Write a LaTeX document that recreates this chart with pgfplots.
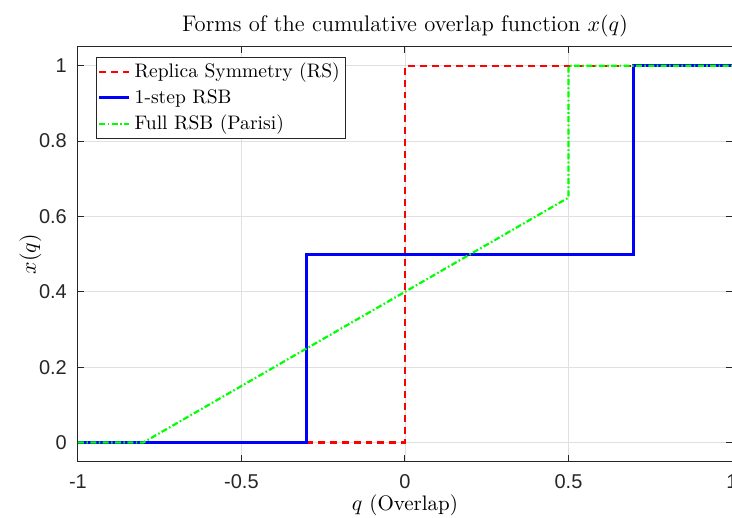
\documentclass[border=0pt]{standalone}
\usepackage{pgfplots}
\pgfplotsset{compat=1.18}
\usepackage{fontspec}
\newfontfamily\tickfont{Liberation Sans}

\definecolor{axgray}{gray}{0.15}
\definecolor{gridgray}{gray}{0.88}

\begin{document}
\begin{tikzpicture}
\begin{axis}[
  scale only axis,
  width=327.5pt, height=207.5pt,
  xmin=-1, xmax=1, ymin=-0.05, ymax=1.05,
  xtick={-1,-0.5,0,0.5,1},
  ytick={0,0.2,0.4,0.6,0.8,1},
  tick align=inside,
  major tick length=3pt,
  axis line style={axgray, line width=0.5pt},
  tick style={axgray, line width=0.5pt},
  grid=major,
  major grid style={gridgray, line width=0.4pt},
  /pgf/number format/assume math mode=true,
  tick label style={font=\tickfont\fontsize{10}{12}\selectfont, text=black!85},
  xticklabel style={yshift=-3pt},
  yticklabel style={xshift=-2pt},
  title={Forms of the cumulative overlap function $x(q)$},
  title style={font=\fontsize{11.3}{13}\selectfont, yshift=-4.5pt},
  xlabel={$q$ (Overlap)},
  ylabel={$x(q)$},
  xlabel style={font=\fontsize{10.5}{12}\selectfont, yshift=4pt},
  ylabel style={font=\fontsize{10.5}{12}\selectfont, yshift=-8pt},
  legend cell align=left,
  legend style={at={(0.0275,0.976)}, anchor=north west,
    draw=axgray, line width=0.5pt, fill=white,
    font=\fontsize{9.8}{10.5}\selectfont,
    inner sep=0.8pt, row sep=0.4pt},
  legend image code/.code={\draw[#1] (0pt,0pt) -- (15pt,0pt);},
]
% replica symmetric solution: single step at q = 0
\addplot[red, line width=1.2pt, dash pattern=on 3.5pt off 2.5pt]
  coordinates {(-1,0) (0,0) (0,1) (1,1)};
\addlegendentry{Replica Symmetry (RS)}
% one-step replica symmetry breaking: two plateaus
\addplot[blue, line width=1.4pt]
  coordinates {(-1,0) (-0.3,0) (-0.3,0.5) (0.7,0.5) (0.7,1) (1,1)};
\addlegendentry{1-step RSB}
% full RSB: continuous linear part, then jump to 1
\addplot[green, line width=1.1pt, dash pattern=on 3pt off 1.2pt on 0.8pt off 1.2pt]
  coordinates {(-1,0) (-0.8,0) (0.5,0.65) (0.5,1) (1,1)};
\addlegendentry{Full RSB (Parisi)}
\end{axis}
% page extent: margins around the axis box
\pgfresetboundingbox
\path[use as bounding box]
  ([shift={(-39pt,-28pt)}]current axis.south west)
  rectangle ([shift={(0pt,23.5pt)}]current axis.north east);
\end{tikzpicture}
\end{document}
